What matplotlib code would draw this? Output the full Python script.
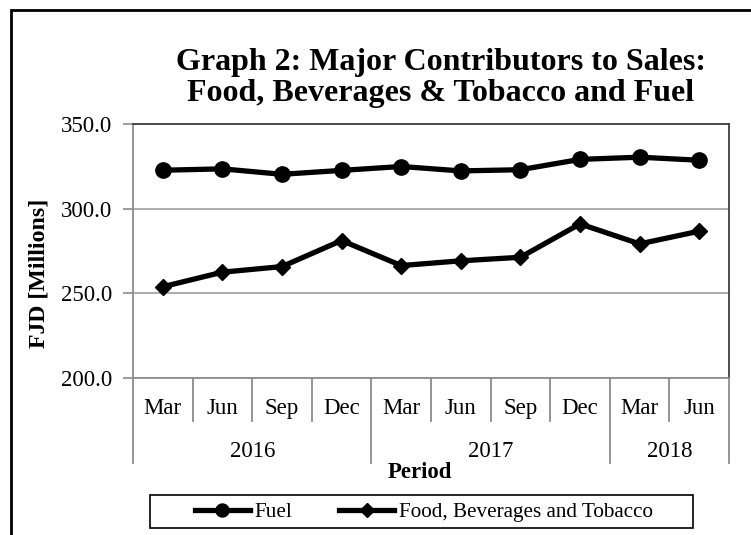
import matplotlib
matplotlib.use('Agg')
import matplotlib.pyplot as plt
from matplotlib.patches import Rectangle
from matplotlib.lines import Line2D
import matplotlib.transforms as mtransforms

plt.rcParams['font.family'] = ['Liberation Serif', 'DejaVu Serif']

months = ['Mar', 'Jun', 'Sep', 'Dec', 'Mar', 'Jun', 'Sep', 'Dec', 'Mar', 'Jun']
years = ['2016', '2017', '2018']
year_counts = [4, 4, 2]
fuel = [322.7, 323.5, 320.3, 322.6, 324.9, 322.3, 323.0, 329.1, 330.4, 328.6]
food = [253.9, 262.5, 265.8, 281.2, 266.4, 269.2, 271.3, 291.0, 279.2, 286.7]
yticks = [200.0, 250.0, 300.0, 350.0]

W, H = 751, 535
fig = plt.figure(figsize=(W / 100, H / 100), dpi=100)

# outer chart border (runs off right and bottom edge)
fig.patches.append(Rectangle((11 / W, -0.1), 1.2, 1 - 10 / H + 0.1,
                             transform=fig.transFigure, fill=False,
                             edgecolor='black', linewidth=2))

left, right, top, bottom = 133, 729, 124, 378
ax = fig.add_axes([left / W, 1 - bottom / H, (right - left) / W, (bottom - top) / H])

x = list(range(len(months)))
ax.plot(x, fuel, color='black', lw=3.8, marker='o', ms=11, label='Fuel',
        solid_joinstyle='round', zorder=3)
ax.plot(x, food, color='black', lw=3.8, marker='D', ms=8.5,
        label='Food, Beverages and Tobacco', solid_joinstyle='round', zorder=3)

ax.set_xlim(-0.5, len(months) - 0.5)
ax.set_ylim(200, 350)
ax.set_yticks(yticks)
ax.set_yticklabels(['%.1f' % v for v in yticks], fontsize=16.5)
ax.tick_params(axis='y', direction='out', length=7, width=1.2, color='#8c8c8c', pad=8)
ax.set_xticks([])
ax.grid(axis='y', color='#a6a6a6', lw=1.3)
ax.set_axisbelow(True)

for s in ['top', 'right']:
    ax.spines[s].set_color('#404040')
    ax.spines[s].set_linewidth(1.3)
for s in ['left', 'bottom']:
    ax.spines[s].set_color('#8c8c8c')
    ax.spines[s].set_linewidth(1.3)

fig.text(39 / W, 1 - 273 / H, 'FJD [Millions]', rotation=90, ha='center', va='center',
         fontsize=17.2, fontweight='bold')

# multi-level category axis
ah = bottom - top
trans = mtransforms.blended_transform_factory(ax.transData, ax.transAxes)
month_y = -(414 - bottom) / ah
short_y = -(421 - bottom) / ah
year_y = -(457 - bottom) / ah
long_y = -(463 - bottom) / ah

for i, m in enumerate(months):
    ax.text(i, month_y, m, transform=trans, ha='center', va='baseline', fontsize=16.5)

edges = [-0.5]
for c in year_counts:
    edges.append(edges[-1] + c)
for i in range(len(months) + 1):
    xe = i - 0.5
    y2 = long_y if xe in edges else short_y
    ax.add_line(Line2D([xe, xe], [0, y2], transform=trans, color='#8c8c8c',
                       lw=1.3, clip_on=False))
for k, yr in enumerate(years):
    xc = (edges[k] + edges[k + 1]) / 2
    ax.text(xc, year_y, yr, transform=trans, ha='center', va='baseline', fontsize=16.5)

fig.text(420 / W, 1 - 472 / H, 'Period', ha='center', va='center',
         fontsize=16.5, fontweight='bold')

fig.text(441 / W, 1 - 78 / H, 'Graph 2: Major Contributors to Sales:\nFood, Beverages & Tobacco and Fuel',
         ha='center', va='center', fontsize=23, fontweight='bold', linespacing=1.08)

# legend box drawn separately to get Excel-like padding
fig.patches.append(Rectangle((150 / W, 1 - 528 / H), (693 - 150) / W, 33 / H,
                             transform=fig.transFigure, fill=False,
                             edgecolor='black', linewidth=1.2))
leg = fig.legend(loc='center', bbox_to_anchor=(424 / W, 1 - 512 / H), ncol=2,
                 fontsize=15.2, frameon=False,
                 handlelength=2.6, handletextpad=0.25, columnspacing=2.2,
                 borderpad=0.0, markerscale=0.85)

fig.savefig('out.png', dpi=100)
